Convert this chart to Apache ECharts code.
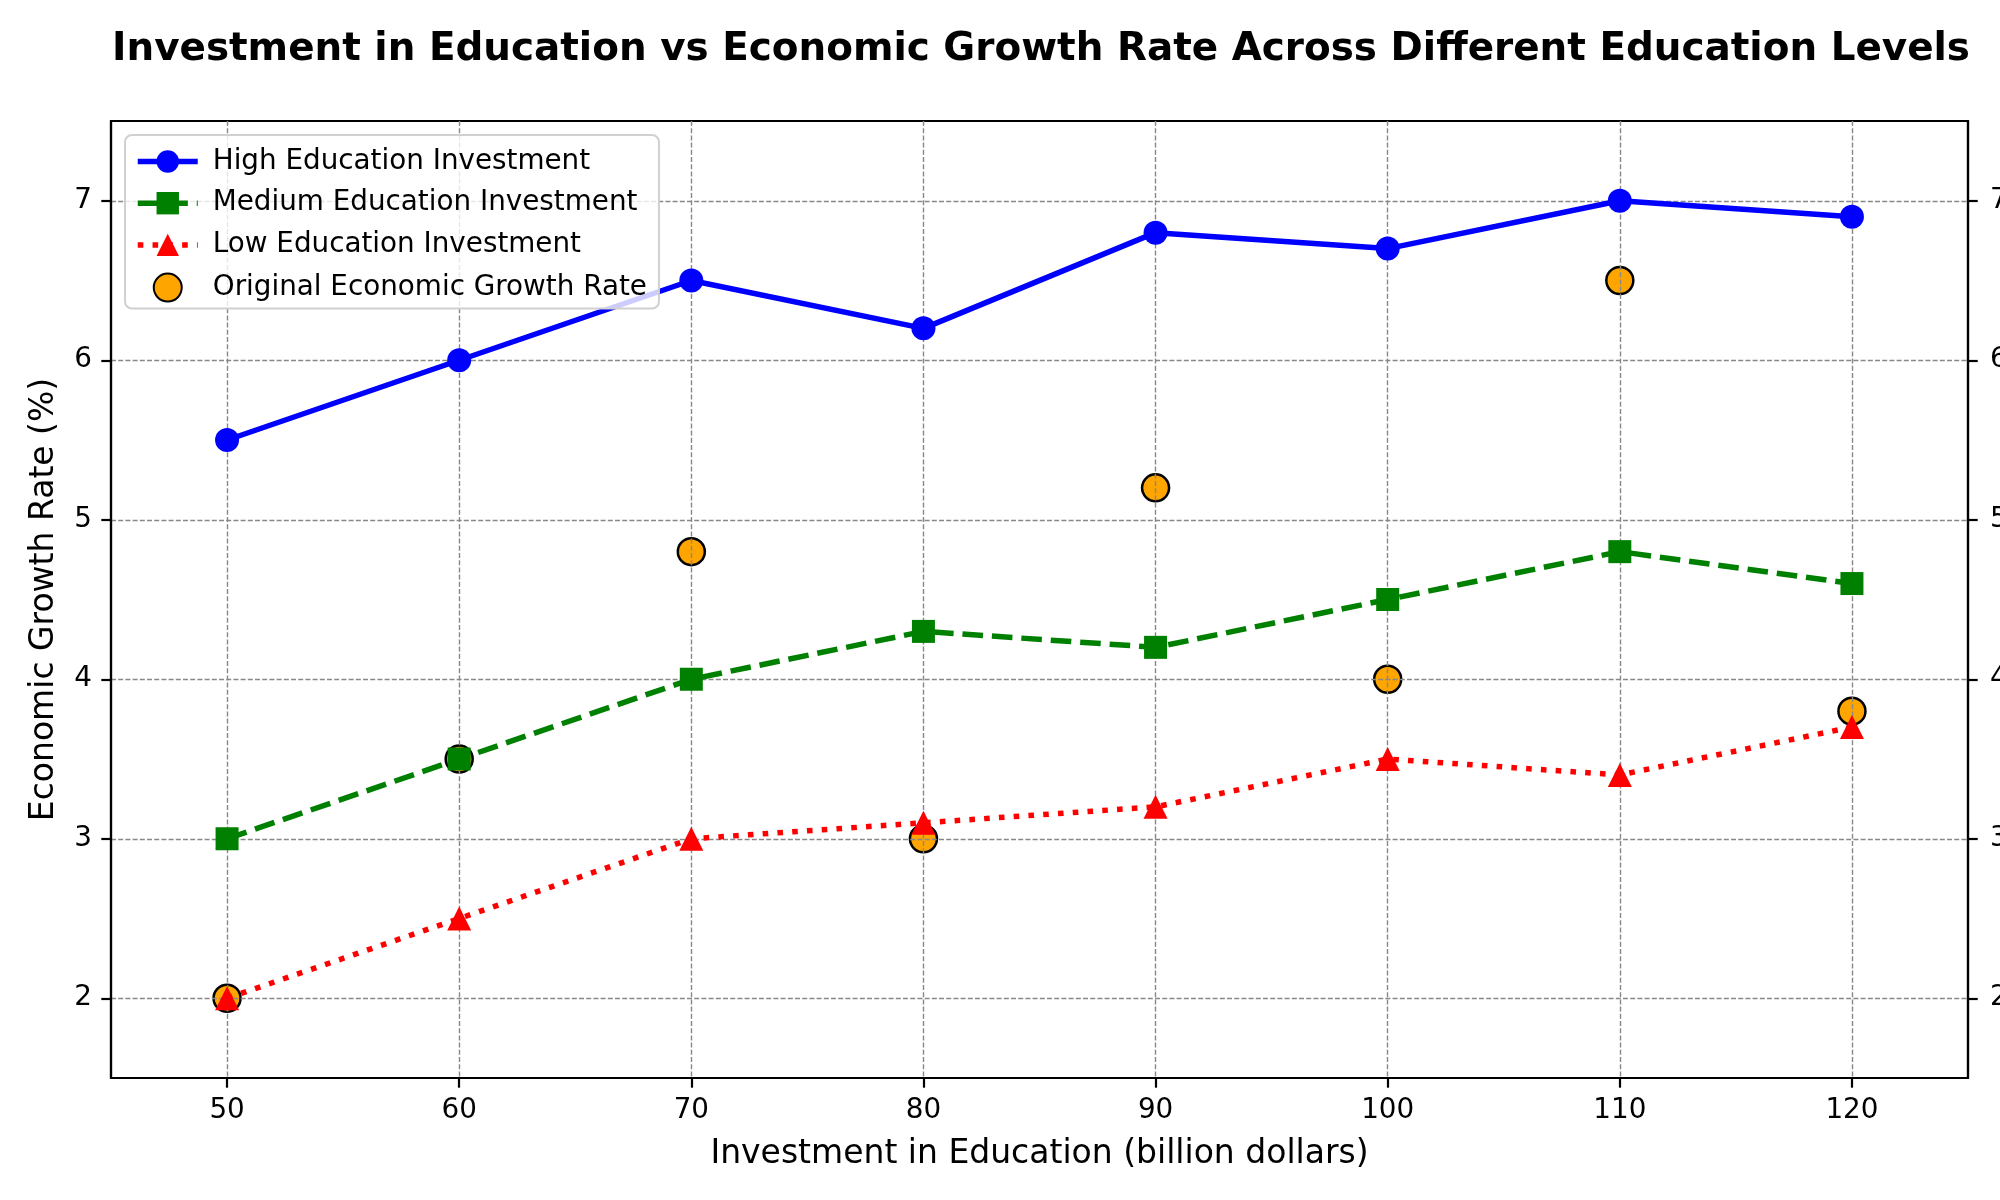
<!DOCTYPE html>
<html>
<head>
<meta charset="utf-8">
<title>Investment in Education vs Economic Growth Rate</title>
<script src="https://cdn.jsdelivr.net/npm/echarts@6/dist/echarts.min.js"></script>
<style>
  html, body { margin: 0; padding: 0; background: #fff; }
  #main { width: 2000px; height: 1200px; }
</style>
</head>
<body>
<div id="main"></div>
<script>
// data
var investment = [50, 60, 70, 80, 90, 100, 110, 120];
var highGrowth = [5.5, 6.0, 6.5, 6.2, 6.8, 6.7, 7.0, 6.9];
var mediumGrowth = [3.0, 3.5, 4.0, 4.3, 4.2, 4.5, 4.8, 4.6];
var lowGrowth = [2.0, 2.5, 3.0, 3.1, 3.2, 3.5, 3.4, 3.7];
var originalGrowth = [2.0, 3.5, 4.8, 3.0, 5.2, 4.0, 6.5, 3.8];
var xTicks = [50, 60, 70, 80, 90, 100, 110, 120];
var yTicks = [2, 3, 4, 5, 6, 7];

function pairs(ys){
    return investment.map(function(x, i){ return [x, ys[i]]; });
}

var FONT = 'DejaVu Sans';
var gridLine = { show: true, lineStyle: { color: '#888', width: 1.4, type: [5, 2.2] } };

var chart = echarts.init(document.getElementById('main'));

chart.setOption({
    backgroundColor: '#fff',
    animation: false,
    textStyle: { fontFamily: FONT, color: '#000' },
    title: {
        text: 'Investment in Education vs Economic Growth Rate Across Different Education Levels',
        left: 1036,
        textAlign: 'center',
        top: 25,
        textStyle: { fontFamily: FONT, fontSize: 38.9, fontWeight: 'bold', color: '#000' }
    },
    grid: {
        left: 111, right: 32, top: 121, bottom: 122,
        outerBoundsMode: 'none',
        containLabel: false,
        show: true, borderColor: '#000', borderWidth: 2.2, backgroundColor: 'transparent'
    },
    legend: {
        orient: 'vertical',
        left: 125, top: 135,
        padding: [12.5, 12, 6, 10],
        itemWidth: 60, itemHeight: 28, itemGap: 13.7,
        backgroundColor: 'rgba(255,255,255,0.8)',
        borderColor: '#d0d0d0', borderWidth: 2, borderRadius: 7,
        lineStyle: { width: 'inherit' },
        textStyle: { fontFamily: FONT, fontSize: 27.8, lineHeight: 28, color: '#000', padding: [0, 0, 0, 10] },
        data: ['High Education Investment', 'Medium Education Investment',
               'Low Education Investment', 'Original Economic Growth Rate']
    },
    xAxis: {
        type: 'value',
        min: 45, max: 125,
        name: 'Investment in Education (billion dollars)',
        nameLocation: 'middle', nameGap: 60,
        nameTextStyle: { fontFamily: FONT, fontSize: 33, color: '#000' },
        axisLine: { show: true, lineStyle: { color: '#000', width: 2.2 } },
        axisTick: { show: true, inside: false, length: 9.7, customValues: xTicks, lineStyle: { color: '#000', width: 2.2 } },
        axisLabel: { customValues: xTicks, margin: 19, fontFamily: FONT, fontSize: 27.8, color: '#000' },
        splitLine: gridLine,
        z: 1
    },
    yAxis: [{
        type: 'value',
        min: 1.5, max: 7.5,
        name: 'Economic Growth Rate (%)',
        nameLocation: 'middle', nameGap: 50,
        nameTextStyle: { fontFamily: FONT, fontSize: 33, color: '#000' },
        axisLine: { show: true, lineStyle: { color: '#000', width: 2.2 } },
        axisTick: { show: true, inside: false, length: 9.7, customValues: yTicks, lineStyle: { color: '#000', width: 2.2 } },
        axisLabel: { customValues: yTicks, margin: 19, fontFamily: FONT, fontSize: 27.8, color: '#000' },
        splitLine: gridLine,
        z: 1
    }, {
        // twin axis on the right, labels run off the canvas edge
        type: 'value',
        position: 'right',
        min: 1.5, max: 7.5,
        axisLine: { show: true, lineStyle: { color: '#000', width: 2.2 } },
        axisTick: { show: true, inside: false, length: 9.7, customValues: yTicks, lineStyle: { color: '#000', width: 2.2 } },
        axisLabel: { customValues: yTicks, margin: 22, fontFamily: FONT, fontSize: 27.8, color: '#000' },
        splitLine: { show: false },
        z: 1
    }],
    series: [{
        name: 'Original Economic Growth Rate',
        type: 'scatter',
        data: pairs(originalGrowth),
        symbol: 'circle',
        symbolSize: 27,
        itemStyle: { color: '#ffa500', borderColor: '#000', borderWidth: 2.5, opacity: 1 },
        z: 0
    }, {
        name: 'High Education Investment',
        type: 'line',
        data: pairs(highGrowth),
        symbol: 'circle', symbolSize: 24,
        lineStyle: { color: '#0000ff', width: 5.5 },
        itemStyle: { color: '#0000ff' },
        z: 3
    }, {
        name: 'Medium Education Investment',
        type: 'line',
        data: pairs(mediumGrowth),
        symbol: 'rect', symbolSize: 23,
        lineStyle: { color: '#008000', width: 5.5, type: [20.6, 8.9] },
        itemStyle: { color: '#008000' },
        z: 3
    }, {
        name: 'Low Education Investment',
        type: 'line',
        data: pairs(lowGrowth),
        symbol: 'triangle', symbolSize: 24,
        lineStyle: { color: '#ff0000', width: 5.5, type: [5.6, 9.2] },
        itemStyle: { color: '#ff0000' },
        z: 3
    }]
});
</script>
</body>
</html>
